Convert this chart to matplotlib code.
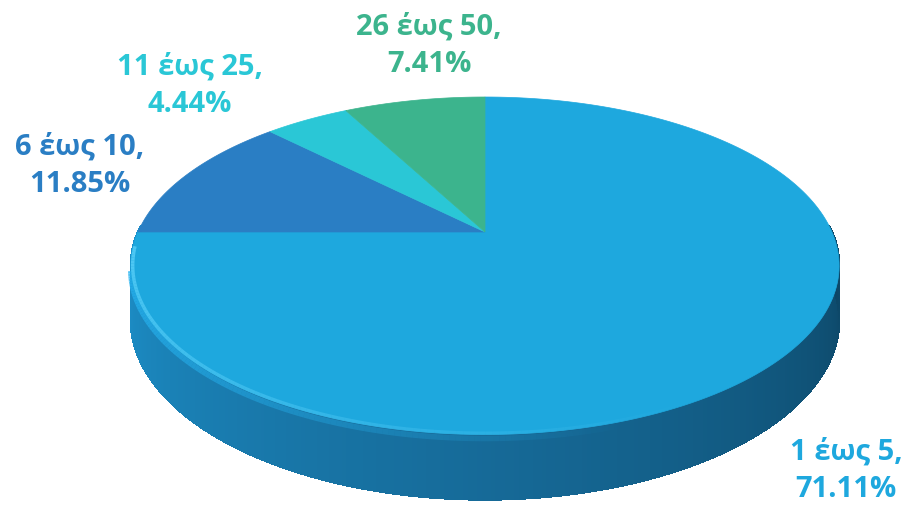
# 3D-style pie of group sizes (Excel look), perspective-tilted by hand

import matplotlib.pyplot as plt
import numpy as np
from matplotlib.collections import PolyCollection, LineCollection
from matplotlib.colors import to_rgb

categories = ['1 έως 5', '6 έως 10', '11 έως 25', '26 έως 50']
shares = [71.11, 11.85, 4.44, 7.41]
colors = ['#1ea8de', '#2a7ec4', '#2ac7d6', '#3cb48d']

# label block centres in pixels (layout only)
label_pos = [(846, 471), (80, 166), (190, 86), (429, 46)]

# projection of the unit disc onto the picture (pixels)
CX, CY = 485., 232.
A, B, K = 347., 162., 0.2
H = 52.   # thickness of the disc


def project(theta, r=1.):
    u = r*np.cos(theta)
    v = r*np.sin(theta)
    w = 1. + K*v
    return CX + A*u/w, CY - B*v/w, w


def mix(c1, c2, t):
    c1, c2 = np.array(to_rgb(c1)), np.array(to_rgb(c2))
    return tuple(c1 + (c2 - c1)*t)


def main():

    plt.rcParams['font.family'] = ['Open Sans', 'DejaVu Sans']

    fig = plt.figure(figsize=(9.10, 5.09), dpi=100)
    ax = fig.add_axes([0, 0, 1, 1])

    # let matplotlib work out the slice angles, then redraw them in perspective
    wedges, _ = ax.pie(shares, startangle=90, counterclock=False)
    angles = [(w.theta1, w.theta2) for w in wedges]
    for w in wedges:
        w.remove()

    ax.set_aspect('auto')
    ax.set_xlim(0, 910)
    ax.set_ylim(509, 0)
    ax.axis('off')

    # side wall (only the front half can be seen)
    th = np.radians(np.linspace(178., 362., 300))
    x, y, w = project(th)
    yb = y + H/w
    quads, qcols = [], []
    for i in range(len(th) - 1):
        quads.append([(x[i], y[i]), (x[i+1], y[i+1]),
                      (x[i+1], yb[i+1]), (x[i], yb[i])])
        t = np.clip((np.degrees(th[i]) - 180.)/180., 0, 1)
        if t < 0.5:
            c = mix('#1d92cc', '#166a98', t/0.5)
        else:
            c = mix('#166a98', '#0c4463', (t - 0.5)/0.5)
        qcols.append(c)
    ax.add_collection(PolyCollection(quads, facecolors=qcols, edgecolors=qcols,
                                     linewidths=1.0, antialiased=False, zorder=1))

    # bright band along the top of the wall on the left
    th = np.radians(np.linspace(192., 290., 120))
    px, py, w = project(th)
    segs = [[(px[i], py[i] + 4), (px[i+1], py[i+1] + 4)] for i in range(len(th) - 1)]
    alph = np.linspace(0.8, 0., len(segs))
    ax.add_collection(LineCollection(segs, colors=[(0.15, 0.70, 0.94, a) for a in alph],
                                     linewidths=4, zorder=1.5))

    # top face slices
    for (t1, t2), col in zip(angles, colors):
        th = np.radians(np.linspace(t1, t2, 200))
        px, py, _ = project(th)
        px = np.concatenate([[CX], px])
        py = np.concatenate([[CY], py])
        ax.fill(px, py, color=col, ec=col, lw=0.5, zorder=2)

    # light rim on the front-left edge of the top face
    th = np.radians(np.linspace(185., 300., 120))
    px, py, _ = project(th, 0.995)
    segs = [[(px[i], py[i]), (px[i+1], py[i+1])] for i in range(len(th) - 1)]
    alph = np.linspace(0.9, 0., len(segs))
    ax.add_collection(LineCollection(segs, colors=[(0.33, 0.80, 0.97, a) for a in alph],
                                     linewidths=2.5, zorder=3))

    for cat, val, col, (lx, ly) in zip(categories, shares, colors, label_pos):
        ax.text(lx, ly, f'{cat},\n{val:.2f}%', color=col, fontsize=21,
                fontweight='bold', ha='center', va='center',
                multialignment='center', linespacing=1.4, zorder=4)

    fig.savefig('out.png', dpi=100)


if __name__ == "__main__":
    main()
